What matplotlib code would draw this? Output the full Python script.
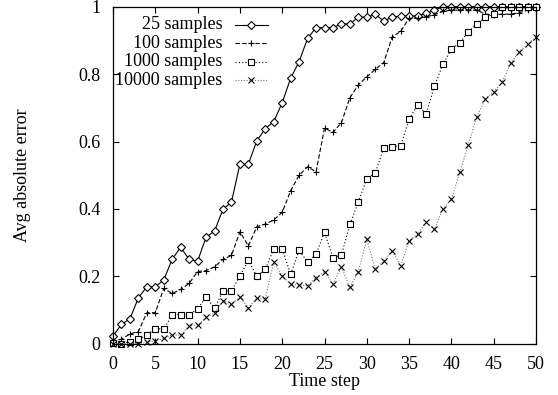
import matplotlib
matplotlib.use('Agg')
import matplotlib.pyplot as plt

# time steps and average absolute error per sample size
steps = list(range(51))

err25 = [0.023, 0.057, 0.074, 0.136, 0.169, 0.169, 0.189, 0.251, 0.286, 0.250,
         0.245, 0.316, 0.334, 0.399, 0.420, 0.533, 0.533, 0.602, 0.638, 0.659,
         0.715, 0.788, 0.837, 0.906, 0.938, 0.938, 0.938, 0.949, 0.949, 0.969,
         0.969, 0.977, 0.958, 0.969, 0.972, 0.972, 0.973, 0.980, 0.990, 1.000,
         1.000, 1.000, 1.000, 1.000, 1.000, 1.000, 1.000, 1.000, 1.000, 1.000, 1.000]

err100 = [0.006, 0.013, 0.029, 0.036, 0.092, 0.092, 0.164, 0.149, 0.161, 0.179,
          0.214, 0.217, 0.228, 0.250, 0.262, 0.332, 0.290, 0.347, 0.355, 0.367,
          0.390, 0.454, 0.500, 0.525, 0.510, 0.640, 0.627, 0.656, 0.730, 0.768,
          0.792, 0.814, 0.834, 0.910, 0.927, 0.966, 0.966, 0.970, 0.976, 0.986,
          0.990, 0.990, 0.990, 0.990, 0.978, 0.976, 0.978, 0.978, 0.982, 0.990, 0.995]

err1000 = [0.001, 0.000, 0.006, 0.013, 0.025, 0.045, 0.043, 0.086, 0.086, 0.086,
           0.103, 0.138, 0.105, 0.157, 0.157, 0.201, 0.248, 0.200, 0.221, 0.281,
           0.281, 0.206, 0.278, 0.242, 0.266, 0.331, 0.255, 0.263, 0.354, 0.421,
           0.489, 0.507, 0.580, 0.585, 0.587, 0.666, 0.708, 0.681, 0.765, 0.829,
           0.874, 0.893, 0.926, 0.948, 0.969, 0.978, 1.000, 1.000, 1.000, 1.000, 1.000]

err10000 = [0.000, 0.000, 0.000, 0.000, 0.006, 0.008, 0.016, 0.026, 0.026, 0.053,
            0.055, 0.078, 0.092, 0.127, 0.118, 0.138, 0.107, 0.135, 0.133, 0.242,
            0.201, 0.176, 0.174, 0.172, 0.196, 0.214, 0.177, 0.228, 0.167, 0.214,
            0.310, 0.221, 0.245, 0.276, 0.231, 0.306, 0.325, 0.360, 0.340, 0.400,
            0.429, 0.510, 0.590, 0.674, 0.726, 0.748, 0.776, 0.832, 0.866, 0.888, 0.911]

labels = ['25 samples', '100 samples', '1000 samples', '10000 samples']
xticks = [0, 5, 10, 15, 20, 25, 30, 35, 40, 45, 50]
yticks = [0, 0.2, 0.4, 0.6, 0.8, 1]
ytick_labels = ['0', '0.2', '0.4', '0.6', '0.8', '1']

plt.rcParams['font.family'] = ['Liberation Serif', 'DejaVu Serif']
plt.rcParams['font.size'] = 13

styles = [
    dict(color='black', linestyle='-', marker='D', markersize=4.2, mfc='white', mec='black', mew=0.8),
    dict(color='black', linestyle=(0, (4, 2)), marker='+', markersize=5, mec='black', mew=0.8),
    dict(color='black', linestyle=(0, (1, 2)), marker='s', markersize=4.8, mfc='white', mec='black', mew=0.8),
    dict(color='#777777', linestyle=(0, (1, 1.5)), marker='x', markersize=4.5, mec='black', mew=0.8),
]

fig = plt.figure(figsize=(5.58, 3.95), dpi=100)
ax = fig.add_axes([0.2025, 0.1299, 0.7581, 0.8531])

series = [err25, err100, err1000, err10000]
for vals, st in zip(series, styles):
    ax.plot(steps, vals, linewidth=0.8, clip_on=False, **st)

ax.set_xlim(0, 50)
ax.set_ylim(0, 1)
ax.set_xticks(xticks)
ax.set_yticks(yticks)
ax.set_yticklabels(ytick_labels)
ax.tick_params(direction='in', length=4.5, width=0.8, top=True, right=True)
ax.tick_params(axis='x', pad=9)
ax.tick_params(axis='y', pad=9)
for s in ax.spines.values():
    s.set_linewidth(0.9)

ax.set_xlabel('Time step', labelpad=0)
ax.set_ylabel('Avg absolute error', labelpad=34)

# gnuplot-style key: right-aligned text with the sample line to its right
key_y = [0.946, 0.892, 0.837, 0.782]
for lab, st, ky in zip(labels, styles, key_y):
    ax.text(0.258, ky, lab, ha='right', va='center', transform=ax.transAxes)
    ax.plot([0.288, 0.327, 0.366], [ky, ky, ky], transform=ax.transAxes,
            linewidth=0.8, markevery=[1], clip_on=False, **st)

fig.savefig('out.png', dpi=100)
